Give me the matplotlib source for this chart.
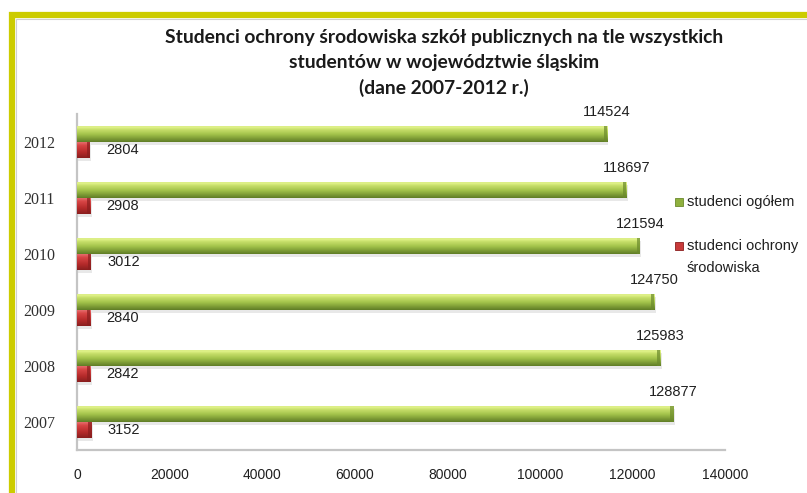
import numpy as np
import matplotlib
matplotlib.use("Agg")
import matplotlib.pyplot as plt
from matplotlib.colors import LinearSegmentedColormap
from matplotlib.patches import Rectangle

# data: students per year
years = ["2007", "2008", "2009", "2010", "2011", "2012"]
total = [128877, 125983, 124750, 121594, 118697, 114524]
env = [3152, 2842, 2840, 3012, 2908, 2804]

title_lines = ["Studenci ochrony środowiska szkół publicznych na tle wszystkich",
               "studentów w województwie śląskim",
               "(dane 2007-2012 r.)"]

fig = plt.figure(figsize=(8.07, 4.93), dpi=100)
fig.patch.set_facecolor("white")

# yellow frame around the chart area
fig.patches.append(Rectangle((12 / 807, -0.05), 1.1, 1 - 15 / 493 + 0.05,
                             transform=fig.transFigure, fill=False,
                             edgecolor="#cccc00", linewidth=4.5, zorder=0))
fig.patches.append(Rectangle((16 / 807, -0.05), 1.1, 1 - 19 / 493 + 0.05,
                             transform=fig.transFigure, fill=False,
                             edgecolor="#d0d0d0", linewidth=0.8, zorder=0))

ax = fig.add_axes([77 / 807, 43 / 493, 648 / 807, 336 / 493])

y = np.arange(len(years))
h = 0.29
off = h / 2

green_cmap = LinearSegmentedColormap.from_list(
    "g", [(0.0, "#5f7d26"), (0.2, "#7d9c36"), (0.45, "#a2c24a"),
          (0.75, "#c9e06c"), (0.9, "#e4f58e"), (1.0, "#c2d873")])
red_cmap = LinearSegmentedColormap.from_list(
    "r", [(0.0, "#8a1e1e"), (0.35, "#b52b2b"), (0.75, "#d84545"),
          (1.0, "#e87a7a")])

# soft shadows under the bars
ax.barh(y + off - 0.05, total, height=h, left=300, color="#d9d9d9",
        alpha=0.6, zorder=1)
ax.barh(y - off - 0.05, env, height=h, left=300, color="#d9d9d9",
        alpha=0.6, zorder=1)

g_bars = ax.barh(y + off, total, height=h, color="#a2c24a", zorder=2)
r_bars = ax.barh(y - off, env, height=h, color="#c03030", zorder=2)

grad = np.linspace(0, 1, 64).reshape(-1, 1)
for bars, cmap in ((g_bars, green_cmap), (r_bars, red_cmap)):
    for rect in bars:
        x0, y0 = rect.get_x(), rect.get_y()
        w, hh = rect.get_width(), rect.get_height()
        im = ax.imshow(grad, extent=[x0, x0 + w, y0, y0 + hh], origin="lower",
                       aspect="auto", cmap=cmap, zorder=3)
        im.set_clip_path(rect)
        # darker cap at the bar end
        ax.add_patch(Rectangle((x0 + w - 700, y0), 700, hh,
                               color="#6b8a2c" if cmap is green_cmap else "#8a1e1e",
                               alpha=0.7, zorder=4, linewidth=0))

lab_font = dict(family="Liberation Sans", size=10.5, color="#202020")
for yi, v in zip(y, total):
    ax.text(v, yi + off + h / 2 + 0.12, str(v), ha="center", va="bottom",
            **lab_font)
for yi, v in zip(y, env):
    ax.text(v + 3500, yi - off, str(v), ha="left", va="center", **lab_font)

ax.set_xlim(0, 140000)
ax.set_ylim(-0.5, len(years) - 0.5)
ax.set_xticks(np.arange(0, 140001, 20000))
ax.set_xticklabels([str(t) for t in range(0, 140001, 20000)],
                   family="Liberation Sans", fontsize=10, color="#202020")
ax.set_yticks(y)
ax.set_yticklabels(years, family="Liberation Serif", fontsize=11.5,
                   color="#303030")
ax.tick_params(length=0)
ax.tick_params(axis="x", pad=13)
ax.tick_params(axis="y", pad=16)
for s in ("top", "right"):
    ax.spines[s].set_visible(False)
for s in ("left", "bottom"):
    ax.spines[s].set_color("#c4c4c4")
    ax.spines[s].set_linewidth(1.6)

# title, one line at a time
for i, line in enumerate(title_lines):
    fig.text(444 / 807, 1 - (37 + 25.5 * i) / 493, line, ha="center",
             va="center", family="Lato", fontweight="bold", fontsize=13.9,
             color="#1a1a1a")

# legend
leg_font = dict(family="Liberation Sans", size=10.5, color="#202020")
fig.patches.append(Rectangle((675 / 807, 1 - 206 / 493), 8 / 807, 8 / 493,
                             transform=fig.transFigure, facecolor="#8fb03e",
                             edgecolor="#6b8a2c", linewidth=0.6))
fig.text(687 / 807, 1 - 202 / 493, "studenci ogółem", va="center", **leg_font)
fig.patches.append(Rectangle((675 / 807, 1 - 250 / 493), 8 / 807, 8 / 493,
                             transform=fig.transFigure, facecolor="#c83a3a",
                             edgecolor="#8a1e1e", linewidth=0.6))
fig.text(687 / 807, 1 - 246 / 493, "studenci ochrony", va="center", **leg_font)
fig.text(687 / 807, 1 - 268 / 493, "środowiska", va="center", **leg_font)

fig.savefig("out.png", dpi=100)
